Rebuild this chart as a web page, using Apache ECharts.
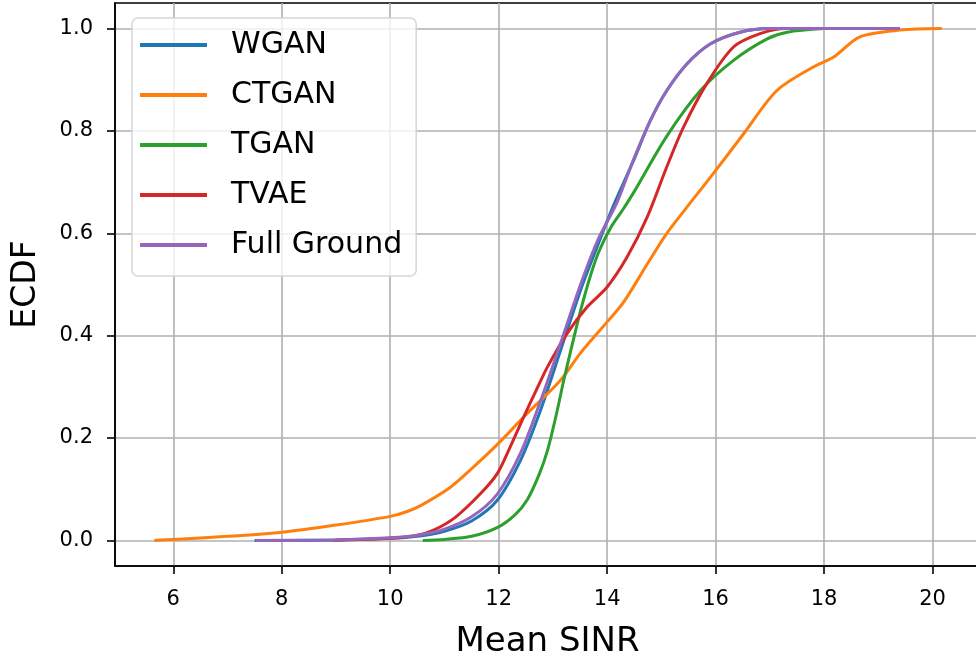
<!DOCTYPE html>
<html>
<head>
<meta charset="utf-8">
<script src="https://cdn.jsdelivr.net/npm/echarts@6/dist/echarts.min.js"></script>
<style>
  html, body { margin: 0; padding: 0; background: #fff; }
  #chart { width: 976px; height: 657px; }
</style>
</head>
<body>
<div id="chart"></div>
<script>
// ECDF curves, [mean SINR, ECDF]
const wgan = [[7.5,0],[9,0.001],[10,0.004],[10.5,0.008],[11,0.018],[11.5,0.038],[11.97,0.078],[12.4,0.156],[12.77,0.254],[13.14,0.371],[13.51,0.489],[13.82,0.575],[14.12,0.655],[14.49,0.743],[14.8,0.821],[15.1,0.879],[15.47,0.931],[15.9,0.97],[16.45,0.993],[17,1.0],[18.4,1.0]]
const ctgan = [[5.65,0],[6,0.002],[7,0.008],[8,0.016],[9,0.03],[10,0.047],[10.3,0.056],[10.56,0.068],[11.11,0.104],[11.5,0.14],[12,0.19],[12.46,0.241],[13.14,0.313],[13.5,0.365],[14.0,0.427],[14.3,0.465],[14.74,0.54],[15.1,0.6],[15.5,0.655],[15.96,0.717],[16.52,0.795],[17.13,0.879],[17.8,0.925],[18.17,0.944],[18.66,0.984],[19.4,0.997],[20.17,1.0]]
const tgan = [[10.6,0],[11,0.002],[11.5,0.008],[11.97,0.025],[12.3,0.05],[12.53,0.08],[12.75,0.13],[12.9,0.176],[13.05,0.24],[13.2,0.313],[13.35,0.38],[13.51,0.449],[13.7,0.52],[13.85,0.565],[14.06,0.61],[14.3,0.648],[14.49,0.68],[15.1,0.79],[15.72,0.879],[16.33,0.938],[16.95,0.98],[17.32,0.993],[18,1.0]]
const tvae = [[8.96,0],[10,0.004],[10.5,0.01],[10.8,0.02],[11.2,0.045],[11.67,0.092],[11.97,0.13],[12.2,0.18],[12.46,0.241],[12.7,0.295],[12.9,0.339],[13.26,0.404],[13.63,0.456],[14.0,0.495],[14.37,0.554],[14.74,0.632],[15.1,0.73],[15.41,0.808],[15.84,0.893],[16.33,0.964],[16.82,0.99],[17.3,1.0],[18.5,1.0]]
const fullGround = [[7.52,0],[9,0.001],[10,0.005],[10.5,0.01],[11,0.022],[11.5,0.046],[11.97,0.09],[12.4,0.17],[12.77,0.272],[13.14,0.385],[13.51,0.5],[13.82,0.585],[14.18,0.66],[14.49,0.745],[14.8,0.821],[15.1,0.879],[15.47,0.931],[15.9,0.97],[16.45,0.993],[17,1.0],[19.4,1.0]]

const seriesNames = ['WGAN', 'CTGAN', 'TGAN', 'TVAE', 'Full Ground']
const seriesData = [wgan, ctgan, tgan, tvae, fullGround]
const colors = ['#1f77b4', '#ff7f0e', '#2ca02c', '#d62728', '#9467bd']
const xTicks = [6, 8, 10, 12, 14, 16, 18, 20]
const yTicks = [0, 0.2, 0.4, 0.6, 0.8, 1.0]

const font = 'DejaVu Sans'
let chart = echarts.init(document.getElementById('chart'))

let option = {
    animation: false,
    color: colors,
    grid: {
        left: 115, right: -4, top: 3, bottom: 91,
        outerBoundsMode: 'none', containLabel: false,
        show: true, borderColor: '#000', borderWidth: 1.6, backgroundColor: 'transparent'
    },
    legend: {
        orient: 'vertical',
        left: 132, top: 18,
        data: seriesNames,
        icon: 'rect',
        itemWidth: 67, itemHeight: 4,
        itemGap: 20,
        padding: [12, 14, 16, 8],
        backgroundColor: 'rgba(255,255,255,0.8)',
        borderColor: '#d6d6d6', borderWidth: 1.5, borderRadius: 6,
        textStyle: { fontFamily: font, fontSize: 30, color: '#000', lineHeight: 30, padding: [0, 0, 0, 19] }
    },
    xAxis: {
        type: 'value',
        min: 4.925, max: 20.875,
        name: 'Mean SINR', nameLocation: 'middle', nameGap: 59,
        nameTextStyle: { fontFamily: font, fontSize: 34, color: '#000' },
        axisLine: { show: true, onZero: false, lineStyle: { color: '#000', width: 1.6 } },
        axisTick: { show: true, length: 8, lineStyle: { color: '#000', width: 1.6 }, customValues: xTicks },
        axisLabel: { fontFamily: font, fontSize: 21, color: '#000', margin: 23, customValues: xTicks },
        splitLine: { show: true, lineStyle: { color: '#b0b0b0', width: 1.6 } }
    },
    yAxis: {
        type: 'value',
        min: -0.05, max: 1.05,
        name: 'ECDF', nameLocation: 'middle', nameGap: 72,
        nameTextStyle: { fontFamily: font, fontSize: 33, color: '#000' },
        axisLine: { show: true, onZero: false, lineStyle: { color: '#000', width: 1.6 } },
        axisTick: { show: true, length: 8, lineStyle: { color: '#000', width: 1.6 }, customValues: yTicks },
        axisLabel: { fontFamily: font, fontSize: 21, color: '#000', margin: 22, customValues: yTicks,
            formatter: v => v.toFixed(1) },
        splitLine: { show: true, lineStyle: { color: '#b0b0b0', width: 1.6 } }
    },
    series: seriesNames.map((name, i) => ({
        name: name,
        type: 'line',
        data: seriesData[i],
        showSymbol: false,
        smooth: 0.3,
        lineStyle: { width: 3, color: colors[i] },
        itemStyle: { color: colors[i] }
    }))
}

chart.setOption(option)
</script>
</body>
</html>
